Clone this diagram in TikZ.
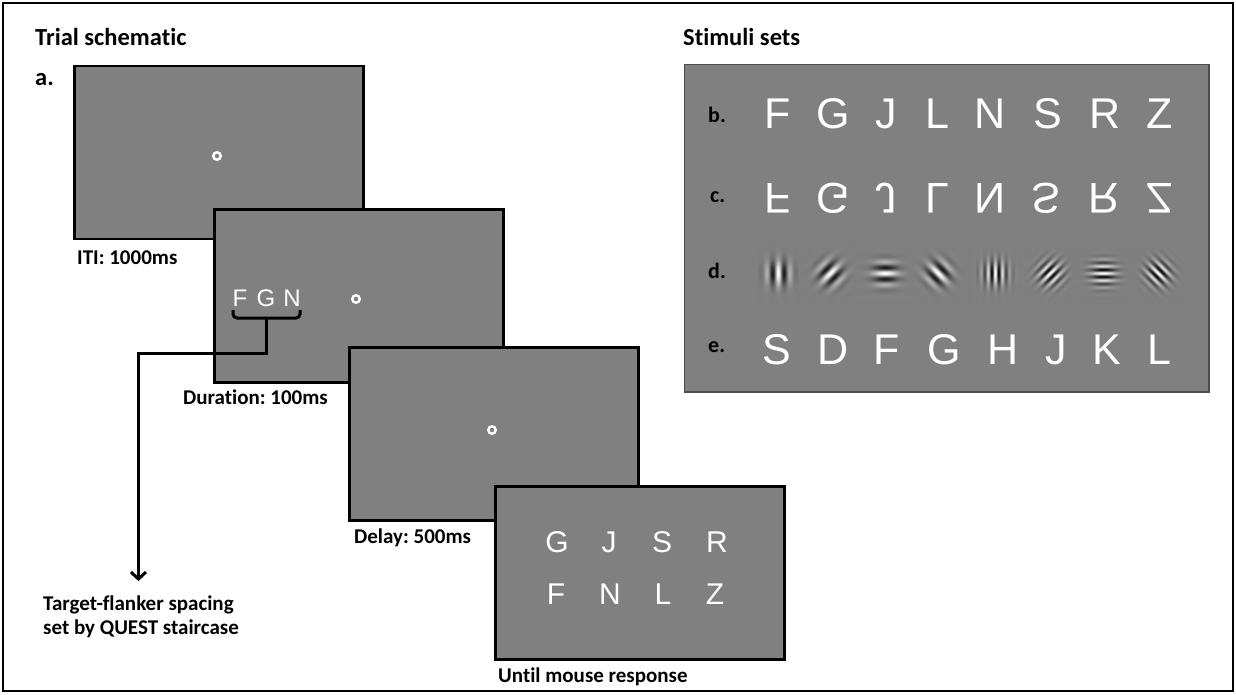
\documentclass[tikz,border=0pt]{standalone}
\usepackage{fontspec}
\setmainfont{Carlito}[Ligatures={NoCommon,NoRequired,NoContextual}]
\newfontfamily\arialf{Liberation Sans}
\usetikzlibrary{arrows.meta}
\frenchspacing
\definecolor{scr}{gray}{0.5}
\definecolor{boxline}{gray}{0.3}
% Gabor patches: name, a, b, envelope factor, degrees per px
\newcommand\mkgabor[5]{%
\pgfdeclarefunctionalshading{#1}{\pgfpoint{-30bp}{-30bp}}{\pgfpoint{30bp}{30bp}}{}{%
 2 copy dup mul exch dup mul add #4 mul 2.71828 exch exp
 3 1 roll #3 mul exch #2 mul add #5 mul cos mul 0.5 mul 0.5 add dup dup
}}
\mkgabor{gabA}{1}{0}{-0.0072}{30}
\mkgabor{gabB}{0.7071}{-0.7071}{-0.0072}{30}
\mkgabor{gabC}{0}{1}{-0.0072}{30}
\mkgabor{gabD}{0.7071}{0.7071}{-0.0072}{30}
\mkgabor{gabE}{1}{0}{-0.0072}{50}
\mkgabor{gabF}{0.7071}{-0.7071}{-0.0072}{50}
\mkgabor{gabG}{0}{1}{-0.0072}{50}
\mkgabor{gabH}{0.7071}{0.7071}{-0.0072}{50}
\tikzset{
  screen/.style={draw=black, line width=2.6pt, fill=scr, minimum width=289pt,
    minimum height=173pt, inner sep=0pt, anchor=north west},
  stimbox/.style={draw=boxline, line width=1.4pt, fill=scr, minimum width=524.6pt,
    minimum height=327.6pt, inner sep=0pt, anchor=north west},
  ttl/.style={font=\bfseries\fontsize{24.5}{28}\selectfont, anchor=base west, inner sep=0pt},
  lab/.style={font=\bfseries\fontsize{21}{24}\selectfont, anchor=base west, inner sep=0pt},
  rowlab/.style={font=\bfseries\fontsize{22}{24}\selectfont, anchor=base west, inner sep=0pt},
  stim/.style={font=\arialf\fontsize{43}{43}\selectfont, text=white, anchor=base, inner sep=0pt},
  scrlet/.style={font=\arialf\fontsize{30}{30}\selectfont, text=white, anchor=base, inner sep=0pt},
  flank/.style={font=\arialf\fontsize{24}{24}\selectfont, text=white, anchor=base, inner sep=0pt},
  fix/.style={circle, draw=white, line width=2.4pt, minimum size=7.5pt, inner sep=0pt},
  conn/.style={draw=black, line width=3pt},
}
\begin{document}
\begin{tikzpicture}[x=1pt,y=-1pt]
\useasboundingbox (0,0) rectangle (1236,694);
\draw[line width=2pt] (3,3) rectangle (1233,691);

% titles
\node[ttl] (t1) at (35,45) {Trial schematic};
\node[ttl] (t2) at (683,45) {Stimuli sets};
\node[ttl] (la) at (35,85) {a.};

% screens
\node[screen] (s1) at (73.3,64.5) {};
\node[fix] (f1) at (217,156) {};
\node[lab] (l1) at (77,264) {ITI: 1000ms};

\node[screen] (s2) at (213.3,208.3) {};
\node[fix] (f2) at (356,299) {};
\node[flank] (fl1) at (240,306) {F};
\node[flank] (fl2) at (266,306) {G};
\node[flank] (fl3) at (292,306) {N};
\node[lab] (l2) at (183,404) {Duration: 100ms};

% brace and connector
\coordinate (bl) at (233,310);
\coordinate (br) at (300,310);
\coordinate (bm) at (266.5,318);
\draw[conn, rounded corners=4pt] (bl) -- ++(0,8) -- ++(67,0) -- (br);
\node[lab] (tf1) at (43,610) {Target-flanker spacing};
\node[lab] (tf2) at (43,634) {set by QUEST staircase};
\draw[conn, -{Straight Barb[length=7pt,width=15pt]}, shorten >=14pt]
  (bm) -- ++(0,35) -| (tf1.north);

\node[screen] (s3) at (348.3,346.3) {};
\node[fix] (f3) at (492,430) {};
\node[lab] (l3) at (354,543) {Delay: 500ms};

\node[screen] (s4) at (494.3,485.3) {};
\foreach \L/\x [count=\i] in {G/557,J/609,S/662,R/717}
  \node[scrlet] (r1\i) at (\x,552) {\L};
\foreach \L/\x [count=\i] in {F/556,N/610,L/663,Z/715}
  \node[scrlet] (r2\i) at (\x,604) {\L};
\node[lab] (l4) at (498,682) {Until mouse response};

% stimuli sets
\node[stimbox] (sb) at (683.7,63.7) {};
\node[rowlab] (lb) at (708,122) {b.};
\node[rowlab] (lc) at (710,202) {c.};
\node[rowlab] (ld) at (708,278) {d.};
\node[rowlab] (le) at (708,352) {e.};
\foreach \L/\x [count=\i] in {F/778,G/833,J/886,L/937,N/990,S/1048,R/1105,Z/1160}
  \node[stim] (b\i) at (\x,128) {\L};
\foreach \L/\x [count=\i] in {F/778,G/833,J/886,L/937,N/990,S/1046,R/1104,Z/1160}
  \node[stim] (c\i) at (\x,183) {\scalebox{1}[-1]{\L}};
\foreach \g/\x [count=\i] in {gabA/778,gabB/830,gabC/885,gabD/938,gabE/995,gabF/1050,gabG/1103,gabH/1158}
  \node[inner sep=0pt] (d\i) at (\x,273) {\pgfuseshading{\g}};
\foreach \L/\x [count=\i] in {S/777,D/833,F/887,G/944,H/1003,J/1056,K/1107,L/1159}
  \node[stim] (e\i) at (\x,364) {\L};
\end{tikzpicture}
\end{document}
